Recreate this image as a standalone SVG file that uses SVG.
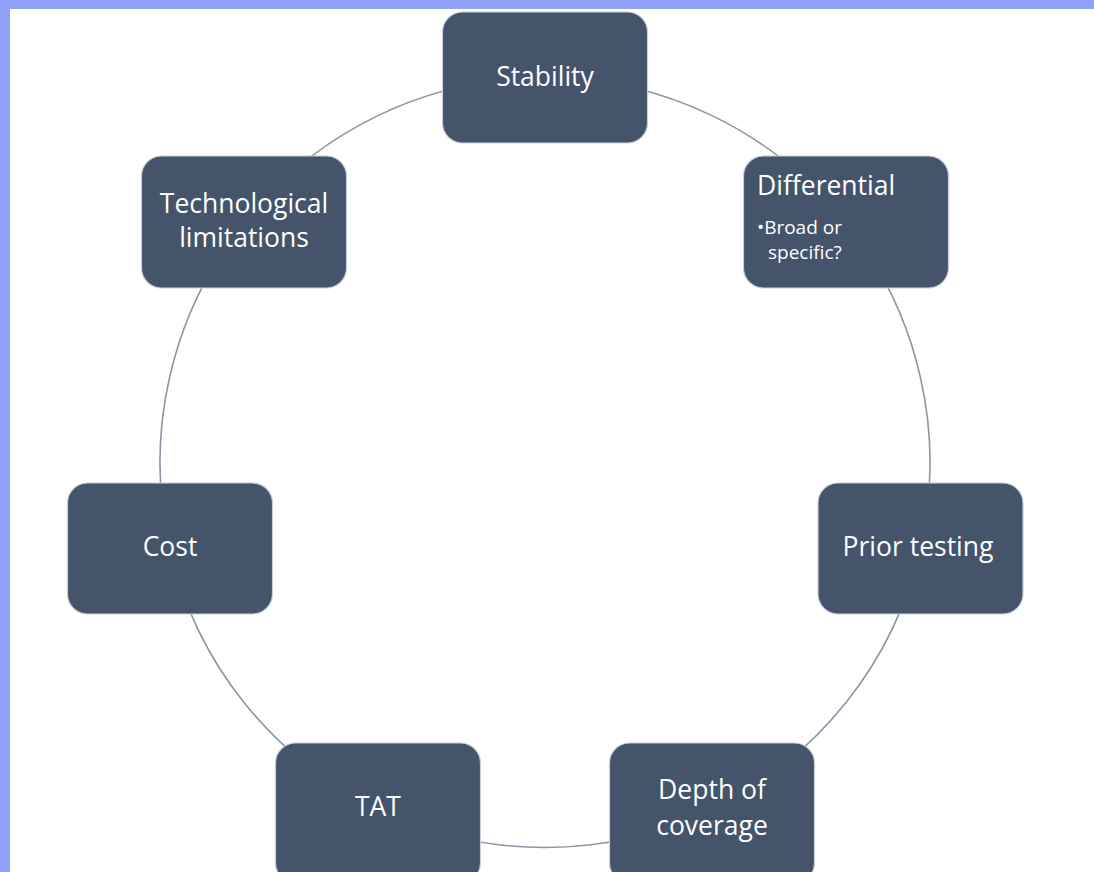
<svg xmlns="http://www.w3.org/2000/svg" width="1094" height="872" viewBox="0 0 1094 872">
  <style>
    .node rect { fill: #44546a; stroke: #c9ced6; stroke-width: 1.2; }
    .node text { fill: #ffffff; font-family: "Open Sans", "Noto Sans", sans-serif; font-size: 26.5px; text-anchor: middle; }
    .node text.sub { font-size: 19px; text-anchor: start; }
    .node text.left { text-anchor: start; }
    .ring path { fill: none; stroke: #8a95a5; stroke-width: 1.6; }
  </style>
  <!-- page frame -->
  <rect x="0" y="0" width="1094" height="872" fill="#8fa2f8"/>
  <rect x="10" y="9" width="1084" height="863" fill="#ffffff"/>

  <!-- cycle ring: centre (545,462.5), r 385 -->
  <g id="connectors" class="ring">
    <path d="M545 77.5 A385 385 0 0 1 846 222.5"/>
    <path d="M846 222.5 A385 385 0 0 1 920.3 548.2"/>
    <path d="M920.3 548.2 A385 385 0 0 1 712 809.4"/>
    <path d="M712 809.4 A385 385 0 0 1 378 809.4"/>
    <path d="M378 809.4 A385 385 0 0 1 169.7 548.2"/>
    <path d="M169.7 548.2 A385 385 0 0 1 244 222.5"/>
    <path d="M244 222.5 A385 385 0 0 1 545 77.5"/>
  </g>

  <g id="stability" class="node">
    <rect x="442.5" y="12" width="205" height="131" rx="20"/>
    <text x="545" y="86">Stability</text>
  </g>
  <g id="differential" class="node">
    <rect x="743.5" y="156" width="205" height="132" rx="20"/>
    <text class="left" x="757" y="195">Differential</text>
    <text class="sub" x="757" y="234">•Broad or</text>
    <text class="sub" x="768" y="259">specific?</text>
  </g>
  <g id="prior-testing" class="node">
    <rect x="818" y="483" width="205" height="131" rx="20"/>
    <text x="918" y="556">Prior testing</text>
  </g>
  <g id="depth-of-coverage" class="node">
    <rect x="609.5" y="743" width="205" height="140" rx="20"/>
    <text x="712" y="799">Depth of</text>
    <text x="712" y="835">coverage</text>
  </g>
  <g id="tat" class="node">
    <rect x="275.5" y="743" width="205" height="140" rx="20"/>
    <text x="378" y="816">TAT</text>
  </g>
  <g id="cost" class="node">
    <rect x="67.5" y="483" width="205" height="131" rx="20"/>
    <text x="170" y="556">Cost</text>
  </g>
  <g id="technological-limitations" class="node">
    <rect x="141.5" y="156" width="205" height="132" rx="20"/>
    <text x="244" y="213">Technological</text>
    <text x="244" y="247">limitations</text>
  </g>
</svg>
